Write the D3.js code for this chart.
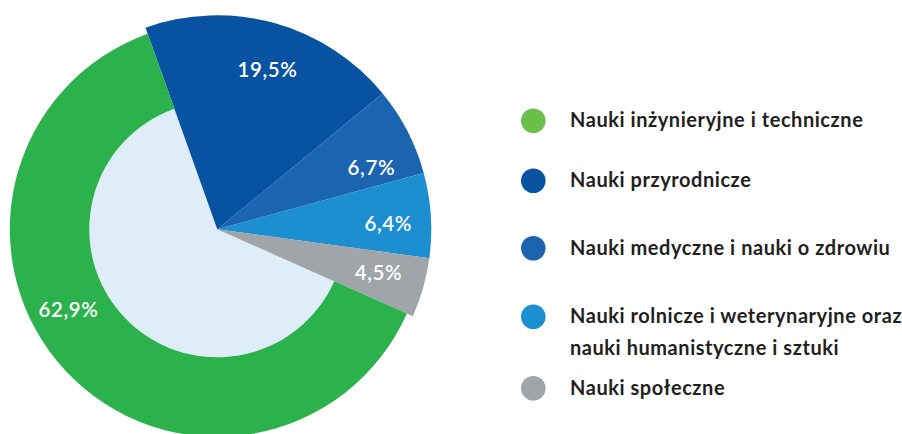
<!DOCTYPE html>
<html><head><meta charset="utf-8">
<script src="https://cdn.jsdelivr.net/npm/d3@7"></script>
<style>
html,body{margin:0;padding:0;background:#fff;}
svg{display:block;}
text{font-family:Lato,"Open Sans",sans-serif;}
</style></head>
<body>
<svg id="chart" width="902" height="434"></svg>
<script>
const categories = [
  "Nauki przyrodnicze",
  "Nauki medyczne i nauki o zdrowiu",
  "Nauki rolnicze i weterynaryjne oraz nauki humanistyczne i sztuki",
  "Nauki społeczne",
  "Nauki inżynieryjne i techniczne"
];
const values = [19.5, 6.7, 6.4, 4.5, 62.9];
const valueLabels = ["19,5%", "6,7%", "6,4%", "4,5%", "62,9%"];
const sliceColors = ["#0753a1", "#1a64b0", "#1b8fd0", "#a0a5aa", "#2bb24c"];

const legendOrder = [4, 0, 1, 2, 3];
const legendLines = [
  ["Nauki inżynieryjne i techniczne"],
  ["Nauki przyrodnicze"],
  ["Nauki medyczne i nauki o zdrowiu"],
  ["Nauki rolnicze i weterynaryjne oraz", "nauki humanistyczne i sztuki"],
  ["Nauki społeczne"]
];
const legendColors = ["#6abf4b", "#0753a1", "#1a64b0", "#1b8fd0", "#a0a5aa"];

const svg = d3.select("#chart");
const cx = 217.3, cy = 229.3;
const deg = Math.PI / 180;
const g = svg.append("g").attr("transform", `translate(${cx},${cy})`);

const pie = d3.pie().sort(null).value(d => d)
  .startAngle(-19.6 * deg).endAngle(340.4 * deg);
const arcs = pie(values);

// light inner disc (visible only in the green sector)
g.append("circle").attr("r", 128).attr("fill", "#deedf8");

const outerBig = 214, outerGreen = 207.5, innerGreen = 128;
const arcGen = d3.arc();
g.selectAll("path.slice").data(arcs).enter().append("path")
  .attr("class", "slice")
  .attr("fill", (d, i) => sliceColors[i])
  .attr("d", (d, i) => i === 4
    ? arcGen({innerRadius: innerGreen, outerRadius: outerGreen, startAngle: d.startAngle, endAngle: d.endAngle})
    : arcGen({innerRadius: 0, outerRadius: outerBig, startAngle: d.startAngle, endAngle: d.endAngle}));

// labels
const labelShift = [2 * deg, 5.5 * deg, 1.8 * deg, -0.8 * deg, 14.5 * deg];
const labelR = [167, 166, 171, 167, 169];
g.selectAll("text.val").data(arcs).enter().append("text")
  .attr("class", "val")
  .attr("x", (d, i) => labelR[i] * Math.sin((d.startAngle + d.endAngle) / 2 + labelShift[i]))
  .attr("y", (d, i) => -labelR[i] * Math.cos((d.startAngle + d.endAngle) / 2 + labelShift[i]))
  .attr("dy", "0.36em")
  .attr("text-anchor", "middle")
  .attr("fill", "#fff")
  .attr("font-size", 20.5)
  .attr("letter-spacing", 0.6)
  .attr("font-weight", 600)
  .text((d, i) => valueLabels[i]);

// legend
const legendY = [120.7, 180.7, 248.3, 316.7, 388.3];
const lg = svg.append("g");
legendOrder.forEach((ci, k) => {
  lg.append("circle").attr("cx", 533.3).attr("cy", legendY[k]).attr("r", 12.3)
    .attr("fill", legendColors[k]);
  const t = lg.append("text").attr("x", 570).attr("y", legendY[k] + 6.5)
    .attr("fill", "#231f20").attr("font-size", 20).attr("letter-spacing", 0.55)
    .attr("font-weight", 700);
  legendLines[k].forEach((line, j) => {
    t.append("tspan").attr("x", 570).attr("dy", j === 0 ? 0 : 31.7).text(line);
  });
});
</script>
</body></html>
